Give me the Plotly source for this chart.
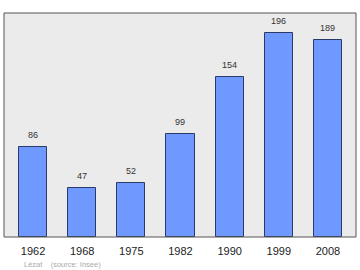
import plotly.graph_objects as go

years = ["1962", "1968", "1975", "1982", "1990", "1999", "2008"]
population = [86, 47, 52, 99, 154, 196, 189]
caption = "Lézat    (source: Insee)"

xs = list(range(len(years)))

fig = go.Figure()
fig.add_trace(go.Bar(
    x=xs, y=population, width=0.57,
    marker=dict(color="#7099ff", line=dict(color="#2a3a6a", width=1)),
    hoverinfo="skip",
))

for x, v in zip(xs, population):
    fig.add_annotation(x=x, y=v, text=str(v), showarrow=False,
                       yanchor="bottom", yshift=5,
                       font=dict(size=9, color="#333333", family="Liberation Sans"))

fig.add_annotation(xref="paper", yref="paper", x=0.05, y=-0.094,
                   xanchor="left", yanchor="top", text=caption, showarrow=False,
                   font=dict(size=7.5, color="#aaaaaa", family="Liberation Sans"))

fig.add_shape(type="rect", xref="paper", yref="paper", x0=0, y0=0, x1=1, y1=1,
              line=dict(color="#555555", width=1), layer="above")

fig.update_layout(
    width=360, height=270,
    margin=dict(l=4, r=4, t=13, b=33),
    paper_bgcolor="white", plot_bgcolor="#ebebeb",
    showlegend=False, bargap=0,
    xaxis=dict(range=[-0.59, 6.57], tickvals=xs, ticktext=years,
               showgrid=False, zeroline=False, ticks="", fixedrange=True,
               ticklabelstandoff=6,
               tickfont=dict(size=11, color="#222222", family="Liberation Sans")),
    yaxis=dict(range=[0, 215.2], showgrid=False, zeroline=False,
               showticklabels=False, ticks="", fixedrange=True),
)

fig.write_html("out.html")
